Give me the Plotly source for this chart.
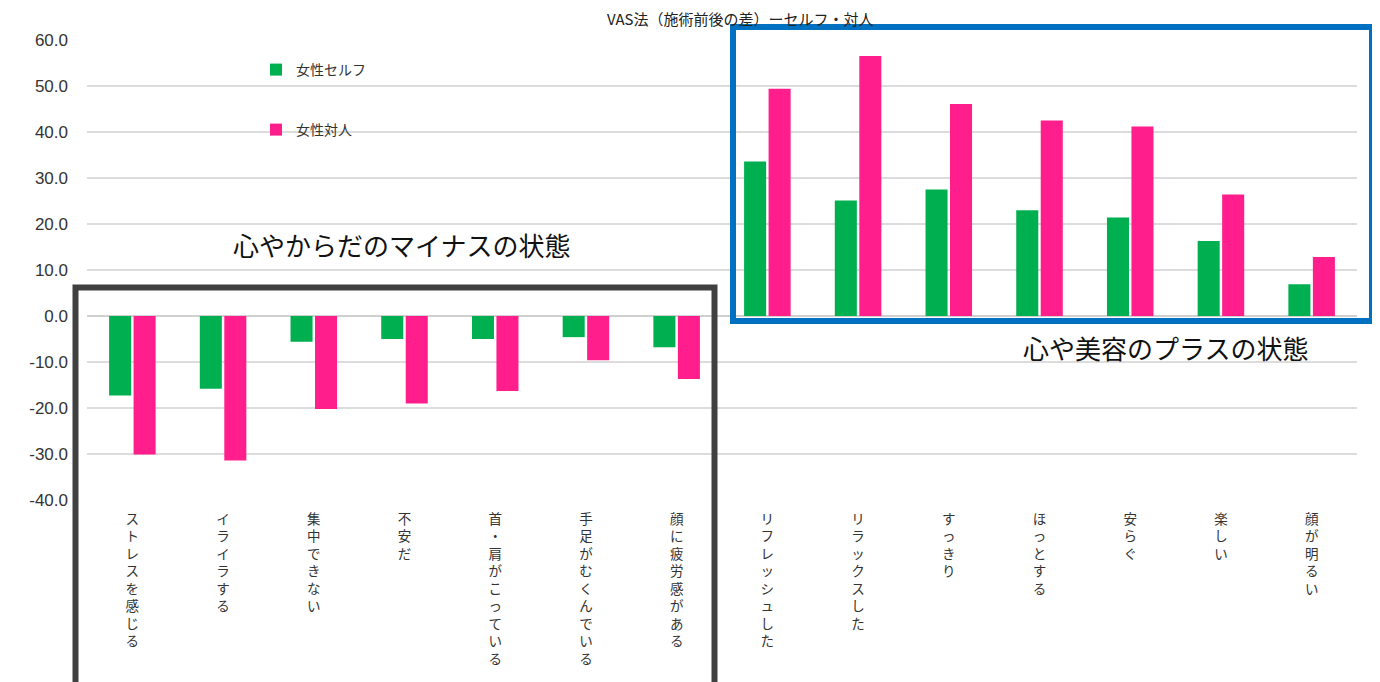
import plotly.graph_objects as go

categories = ["ストレスを感じる", "イライラする", "集中できない", "不安だ", "首・肩がこっている",
              "手足がむくんでいる", "顔に疲労感がある", "リフレッシュした", "リラックスした",
              "すっきり", "ほっとする", "安らぐ", "楽しい", "顔が明るい"]
self_vals = [-17.3, -15.8, -5.6, -5.0, -5.0, -4.6, -6.8, 33.6, 25.1, 27.5, 23.0, 21.4, 16.3, 6.9]
person_vals = [-30.1, -31.4, -20.2, -19.0, -16.3, -9.6, -13.7, 49.4, 56.5, 46.1, 42.5, 41.2, 26.4, 12.8]
series_names = ["女性セルフ", "女性対人"]
yticks = [-40, -30, -20, -10, 0, 10, 20, 30, 40, 50, 60]

title_text = "VAS法（施術前後の差）ーセルフ・対人"
minus_text = "心やからだのマイナスの状態"
plus_text = "心や美容のプラスの状態"

GREEN = "#00AF50"
PINK = "#FF1E8C"
JP = "Noto Sans CJK JP"

OFF = 8  # page body margin
W, H = 1380 - OFF, 682 - OFF
# plot area in page pixels: x 87..1357, y 40..500
L = 87 - OFF
T = 40 - OFF
R = W - (1357 - OFF)
B = H - (500 - OFF)
PW, PH = W - L - R, H - T - B


def px(x):
    """page x pixel -> paper"""
    return (x - OFF - L) / PW


def py(y):
    """page y pixel -> paper"""
    return (H - B - (y - OFF)) / PH


fig = go.Figure()
fig.add_trace(go.Bar(x=categories, y=self_vals, name=series_names[0], showlegend=True,
                     marker=dict(color=GREEN, line=dict(width=0)), legend="legend"))
fig.add_trace(go.Bar(x=categories, y=person_vals, name=series_names[1], showlegend=True,
                     marker=dict(color=PINK, line=dict(width=0)), legend="legend2"))

ticktext = ["<br>".join(list(c)) for c in categories]
yticktext = [f"{v:.1f}" for v in yticks]

legend_common = dict(xref="paper", yref="paper", xanchor="left", yanchor="middle",
                     bgcolor="rgba(0,0,0,0)", borderwidth=0, visible=True,
                     font=dict(family=JP, size=14, color="#333333"))

fig.update_layout(
    width=W, height=H, autosize=False, showlegend=True,
    margin=dict(l=L, r=R, t=T, b=B, pad=0, autoexpand=False),
    paper_bgcolor="white", plot_bgcolor="white",
    barmode="group", bargap=0.46, bargroupgap=0.1,
    font=dict(family=JP, color="#333333"),
    xaxis=dict(tickmode="array", tickvals=categories, ticktext=ticktext, tickangle=0,
               showgrid=False, showline=False, ticks="", automargin=False,
               ticklabelstandoff=9,
               tickfont=dict(family=JP, size=13.5, color="#333333")),
    yaxis=dict(range=[-40, 60], tickmode="array", tickvals=yticks, ticktext=yticktext,
               showgrid=True, gridcolor="#dcdcdc", gridwidth=1.5,
               zeroline=True, zerolinecolor="#d0d0d0", zerolinewidth=1.5,
               showline=False, ticks="", ticklabelstandoff=18, automargin=False,
               tickfont=dict(family="Liberation Sans, Arial", size=17, color="#333333")),
    legend=dict(x=px(256), y=py(70), **legend_common),
    legend2=dict(x=px(256), y=py(130), **legend_common),
    shapes=[
        dict(type="rect", xref="paper", yref="paper",
             x0=px(733), x1=px(1372), y0=py(27), y1=py(321),
             line=dict(color="#0070C0", width=6), fillcolor="rgba(0,0,0,0)"),
        dict(type="rect", xref="paper", yref="paper",
             x0=px(75.5), x1=px(714.5), y0=py(287.5), y1=py(700),
             line=dict(color="#404040", width=6), fillcolor="rgba(0,0,0,0)"),
    ],
    annotations=[
        dict(text=title_text, xref="paper", yref="paper", x=px(740), y=py(OFF + 10),
             xanchor="center", yanchor="middle", showarrow=False,
             font=dict(family=JP, size=15, color="#222222")),
        dict(text=minus_text, xref="paper", yref="paper", x=px(401), y=py(244),
             xanchor="center", yanchor="middle", showarrow=False,
             font=dict(family=JP, size=26, color="#111111")),
        dict(text=plus_text, xref="paper", yref="paper", x=px(1165), y=py(347),
             xanchor="center", yanchor="middle", showarrow=False,
             font=dict(family=JP, size=26, color="#111111")),
    ],
)

fig.write_html("out.html")
